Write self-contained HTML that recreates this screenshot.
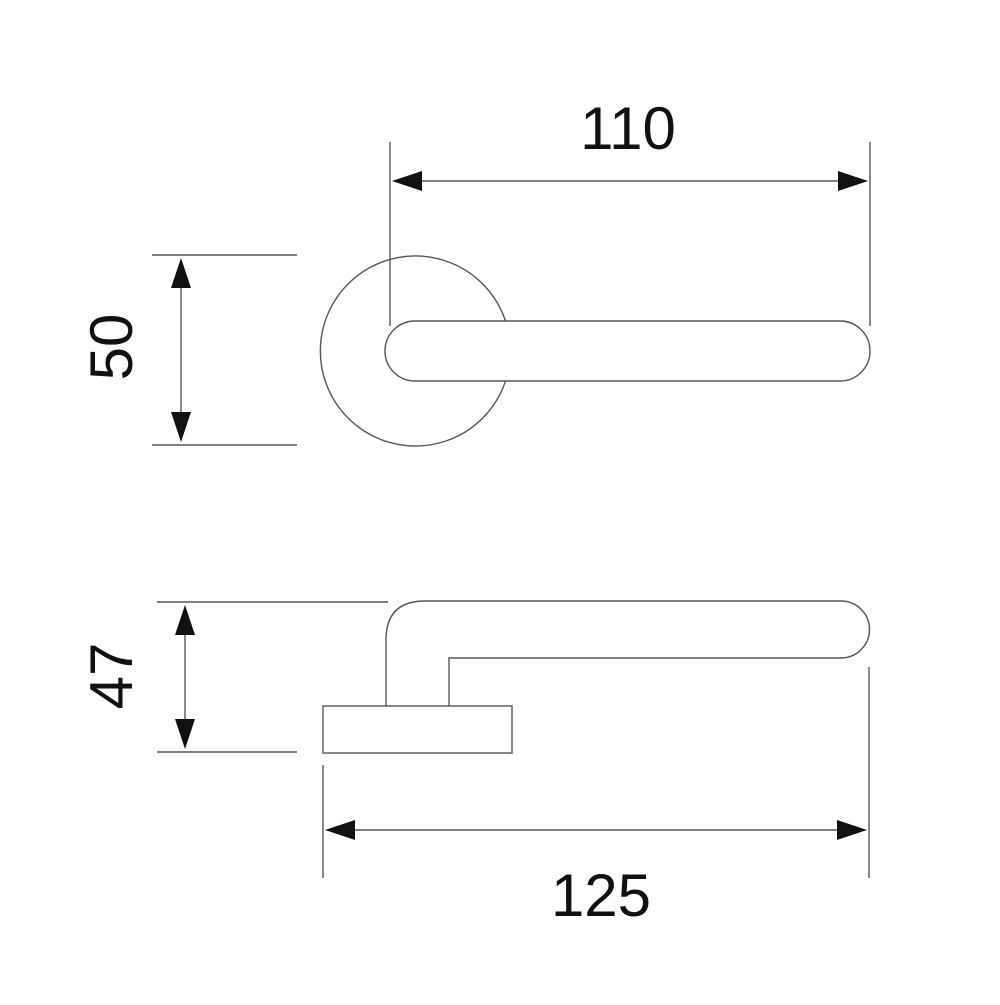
<!DOCTYPE html>
<html><head><style>body{margin:0;background:#fff}</style></head><body>
<svg width="1000" height="1000" viewBox="0 0 1000 1000" xmlns="http://www.w3.org/2000/svg">
<g fill="none" stroke="#555" stroke-width="1.4">
<!-- top view -->
<path d="M505.5 321 A95 95 0 1 0 505.5 381"/>
<path d="M415 321 H840 A30 30 0 0 1 840 381 H415 A30 30 0 0 1 415 321 Z"/>
<line x1="390" y1="142" x2="390" y2="326"/>
<line x1="870" y1="142" x2="870" y2="326"/>
<line x1="400" y1="181" x2="860" y2="181"/>
<line x1="152" y1="255" x2="297" y2="255"/>
<line x1="152" y1="445" x2="297" y2="445"/>
<line x1="181" y1="265" x2="181" y2="435"/>
<!-- side view -->
<rect x="323" y="706" width="189" height="47"/>
<path d="M386 706 V640 Q386 601 425 601 H841 A28.5 28.5 0 0 1 841 658 H449 V706"/>
<line x1="157" y1="602" x2="388" y2="602"/>
<line x1="157" y1="752" x2="297" y2="752"/>
<line x1="185" y1="612" x2="185" y2="742"/>
<line x1="323" y1="765" x2="323" y2="878"/>
<line x1="869" y1="667" x2="869" y2="878"/>
<line x1="335" y1="830" x2="857" y2="830"/>
</g>
<g fill="#111">
<polygon points="392,181 422,171 422,191"/>
<polygon points="868,181 838,171 838,191"/>
<polygon points="181,258 171,288 191,288"/>
<polygon points="181,442 171,412 191,412"/>
<polygon points="185,605 175,635 195,635"/>
<polygon points="185,749 175,719 195,719"/>
<polygon points="325,830 355,820 355,840"/>
<polygon points="867,830 837,820 837,840"/>
</g>
<g font-family="Liberation Sans, sans-serif" font-size="60" fill="#111" text-anchor="middle">
<text x="628" y="149">110</text>
<text x="601" y="916">125</text>
<text transform="translate(132,347) rotate(-90)">50</text>
<text transform="translate(132,676) rotate(-90)">47</text>
</g>
</svg>
</body></html>
